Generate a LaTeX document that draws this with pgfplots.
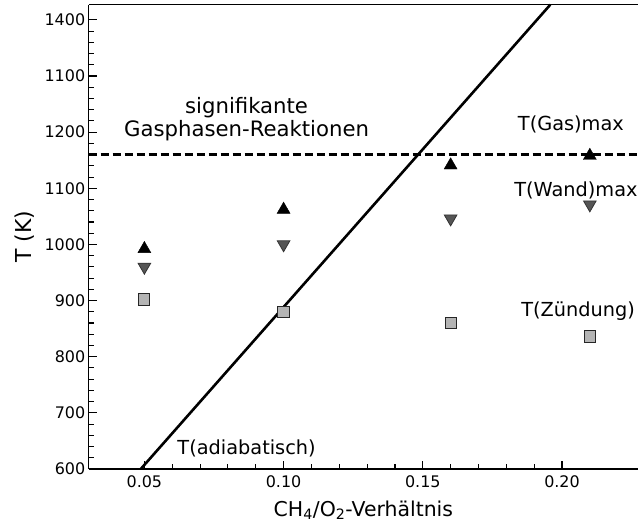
\documentclass[border=0pt]{standalone}
\usepackage{pgfplots}
\pgfplotsset{compat=1.18}
\usepackage{fontspec}
\setmainfont{DejaVu Sans}
\definecolor{sqgray}{HTML}{B4B4B4}
\definecolor{trgray}{HTML}{555555}
\begin{document}
\begin{tikzpicture}
\begin{axis}[
  at={(0,0)}, anchor=south west,
  scale only axis, width=549.3bp, height=464.3bp,
  xmin=0.03, xmax=0.2273, ymin=600, ymax=1427,
  axis x line=bottom, axis y line=left,
  axis line style={-, line width=1.3bp},
  tick align=inside,
  major tick length=8bp, minor tick length=5bp,
  every tick/.style={line width=1.1bp, black},
  xtick={0.05,0.10,0.15,0.20},
  xticklabels={0.05,0.10,0.15,0.20},
  minor x tick num=4,
  ytick={600,700,800,900,1000,1100,1200,1300,1400},
  yticklabels={600,700,800,900,1000,1100,1200,1100,1400},
  minor y tick num=4,
  /pgf/number format/assume math mode=true,
  tick label style={font=\fontsize{16}{19}\selectfont},
  xticklabel style={yshift=-3bp},
  xlabel={CH\textsubscript{4}/O\textsubscript{2}-Verhältnis},
  ylabel={T (K)},
  xlabel style={font=\fontsize{20.5}{24}\selectfont, yshift=-6.5bp},
  ylabel style={font=\fontsize{22}{26}\selectfont, yshift=3bp},
  clip=false,
]
% adiabatic line
\addplot[black, line width=2.6bp] coordinates {(0.0487,600) (0.1958,1427)};
% dashed threshold
\addplot[black, line width=2.4bp, dash pattern=on 8bp off 4bp] coordinates {(0.03,1160) (0.2273,1160)};
% T(Gas)max
\addplot[only marks, mark=triangle*, mark size=7.5bp, mark options={fill=black, draw=black}] coordinates {
(0.05,992) (0.10,1062) (0.16,1141) (0.21,1158)};
% T(Wand)max
\addplot[only marks, mark=triangle*, mark size=7.3bp, mark options={rotate=180, fill=trgray, draw=black!80, line width=0.8bp}] coordinates {
(0.05,960) (0.10,1000) (0.16,1046) (0.21,1071)};
% T(Zuendung)
\addplot[only marks, mark=square*, mark size=5.6bp, mark options={fill=sqgray, draw=black!85, line width=1bp}] coordinates {
(0.05,902) (0.10,879) (0.16,860) (0.21,836)};
\node[font=\fontsize{21.3}{25}\selectfont] at (axis cs:0.0867,1243) {signifikante};
\node[font=\fontsize{21.3}{25}\selectfont] at (axis cs:0.0867,1202) {Gasphasen-Reaktionen};
\node[font=\fontsize{19.4}{23}\selectfont] at (axis cs:0.2032,1214) {T(Gas)max};
\node[font=\fontsize{19.4}{23}\selectfont] at (axis cs:0.205,1097) {T(Wand)max};
\node[font=\fontsize{19.4}{23}\selectfont] at (axis cs:0.2058,881) {T(Zündung)};
\node[font=\fontsize{19.4}{23}\selectfont] at (axis cs:0.0867,637) {T(adiabatisch)};
\end{axis}
\draw[line width=1.3bp] (0,464.3bp) -- (549.3bp,464.3bp);
\pgfresetboundingbox
\path[use as bounding box] (-88.7bp,-55bp) rectangle (549.3bp,469bp);
\end{tikzpicture}
\end{document}
